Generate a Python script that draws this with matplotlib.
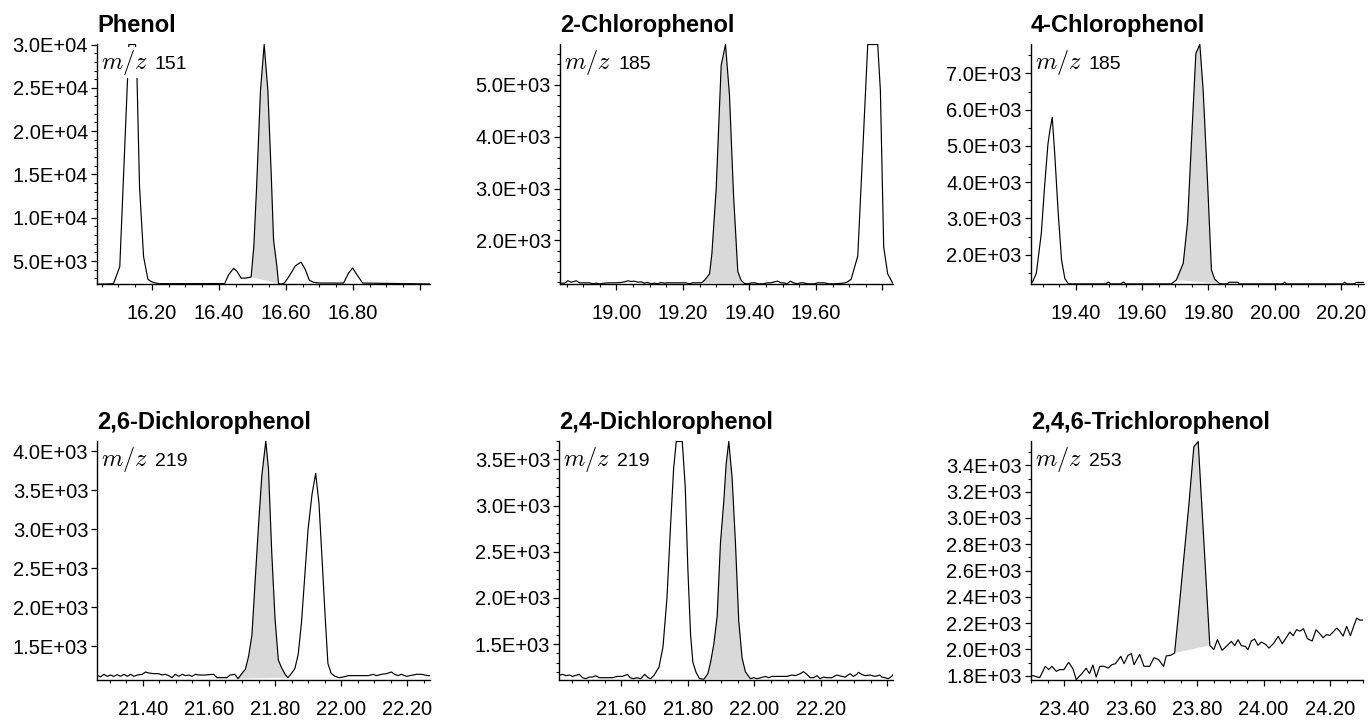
import matplotlib
matplotlib.use("Agg")
import matplotlib.pyplot as plt
import matplotlib.transforms as mtransforms
from matplotlib.ticker import MultipleLocator, FixedLocator, FixedFormatter, FormatStrFormatter

plt.rcParams['font.family'] = ['Liberation Sans', 'DejaVu Sans']
plt.rcParams['mathtext.fontset'] = 'cm'

# ---------------- data ----------------
titles = ["Phenol", "2-Chlorophenol", "4-Chlorophenol",
          "2,6-Dichlorophenol", "2,4-Dichlorophenol", "2,4,6-Trichlorophenol"]
ions = ["151", "185", "185", "219", "219", "253"]

# Phenol, m/z 151
phenol_t = [16.036, 16.085, 16.104, 16.128, 16.131, 16.151, 16.155, 16.163, 16.175, 16.188,
            16.200, 16.220, 16.417, 16.429, 16.444, 16.454, 16.466, 16.479, 16.496, 16.504,
            16.512, 16.524, 16.535, 16.546, 16.556, 16.563, 16.573, 16.578, 16.585, 16.595,
            16.608, 16.628, 16.645, 16.658, 16.670, 16.683, 16.703, 16.772, 16.787, 16.799,
            16.812, 16.829, 17.030]
phenol_i = [2330, 2380, 4350, 26800, 30000, 30000, 26800, 13560, 5500, 2890,
            2580, 2390, 2400, 3430, 4160, 3800, 3030, 3030, 3150, 6650,
            13180, 24700, 30000, 24700, 15100, 7430, 4370, 2400, 2340, 2450,
            3150, 4450, 4880, 4000, 2770, 2540, 2460, 2460, 3610, 4200,
            3420, 2460, 2350]

# 2-Chlorophenol, m/z 185
cp2_t = [18.829, 18.844, 18.854, 18.864, 18.879, 18.889, 18.904, 18.919, 18.929, 18.939,
         18.949, 18.964, 18.974, 18.984, 18.999, 19.014, 19.024, 19.034, 19.044, 19.054,
         19.064, 19.074, 19.084, 19.094, 19.104, 19.114, 19.124, 19.134, 19.144, 19.154,
         19.164, 19.179, 19.194, 19.209, 19.219, 19.229, 19.244, 19.256, 19.266, 19.280,
         19.287, 19.300, 19.315, 19.328, 19.340, 19.352, 19.365, 19.375, 19.385, 19.395,
         19.407, 19.417, 19.427, 19.440, 19.455, 19.465, 19.475, 19.485, 19.495, 19.505,
         19.513, 19.523, 19.533, 19.543, 19.553, 19.563, 19.575, 19.595, 19.605, 19.615,
         19.625, 19.640, 19.655, 19.682, 19.692, 19.706, 19.726, 19.741, 19.756, 19.786,
         19.794, 19.804, 19.816, 19.831]
cp2_i = [1176, 1176, 1221, 1195, 1221, 1182, 1182, 1182, 1163, 1176,
         1163, 1176, 1182, 1182, 1182, 1189, 1201, 1221, 1208, 1214,
         1195, 1201, 1176, 1189, 1163, 1176, 1163, 1189, 1176, 1182,
         1182, 1182, 1182, 1182, 1163, 1182, 1182, 1182, 1240, 1356,
         1743, 3000, 5381, 5780, 4800, 2900, 1400, 1230, 1170, 1163,
         1182, 1182, 1163, 1163, 1182, 1182, 1201, 1214, 1182, 1182,
         1163, 1214, 1182, 1163, 1182, 1182, 1163, 1163, 1182, 1182,
         1182, 1163, 1163, 1176, 1190, 1250, 1700, 3733, 5780, 5780,
         4898, 1871, 1356, 1176]

# 4-Chlorophenol, m/z 185
cp4_t = [19.264, 19.270, 19.281, 19.296, 19.306, 19.316, 19.322, 19.329, 19.337, 19.347,
         19.357, 19.367, 19.377, 19.387, 19.490, 19.498, 19.506, 19.535, 19.543, 19.551,
         19.688, 19.703, 19.724, 19.737, 19.749, 19.762, 19.774, 19.784, 19.797, 19.809,
         19.819, 19.834, 19.845, 19.857, 19.862, 19.888, 19.893, 20.024, 20.030, 20.036,
         20.205, 20.211, 20.217, 20.240, 20.246, 20.269]
cp4_i = [1200, 1260, 1487, 2590, 3900, 5050, 5440, 5788, 4702, 3141,
         1854, 1342, 1204, 1195, 1195, 1245, 1195, 1195, 1245, 1195,
         1195, 1302, 1763, 2900, 5162, 7553, 7800, 6541, 4059, 1578,
         1321, 1200, 1195, 1195, 1240, 1240, 1195, 1195, 1240, 1195,
         1195, 1240, 1195, 1195, 1235, 1235]

# 2,6-Dichlorophenol, m/z 219
dcp26_t = [21.262, 21.272, 21.282, 21.292, 21.302, 21.312, 21.322, 21.332, 21.343, 21.353,
           21.363, 21.373, 21.383, 21.398, 21.408, 21.418, 21.433, 21.448, 21.458, 21.468,
           21.478, 21.488, 21.498, 21.509, 21.519, 21.529, 21.539, 21.549, 21.559, 21.569,
           21.589, 21.614, 21.624, 21.639, 21.654, 21.664, 21.678, 21.688, 21.700, 21.710,
           21.720, 21.730, 21.740, 21.750, 21.760, 21.772, 21.780, 21.790, 21.800, 21.810,
           21.820, 21.830, 21.839, 21.850, 21.860, 21.870, 21.880, 21.890, 21.900, 21.912,
           21.923, 21.933, 21.943, 21.952, 21.960, 21.970, 21.982, 21.994, 22.007, 22.022,
           22.042, 22.062, 22.082, 22.097, 22.107, 22.122, 22.137, 22.152, 22.162, 22.172,
           22.182, 22.198, 22.213, 22.228, 22.243, 22.263, 22.269]
dcp26_i = [1124, 1103, 1137, 1111, 1128, 1111, 1133, 1111, 1137, 1111,
           1137, 1111, 1128, 1137, 1167, 1154, 1145, 1145, 1128, 1137,
           1120, 1094, 1137, 1111, 1137, 1120, 1128, 1111, 1137, 1128,
           1128, 1137, 1094, 1094, 1094, 1128, 1137, 1081, 1150, 1200,
           1370, 1640, 2350, 3050, 3690, 4128, 3780, 2700, 1850, 1320,
           1220, 1140, 1094, 1150, 1210, 1390, 1800, 2400, 3000, 3450,
           3716, 3330, 2560, 1850, 1276, 1148, 1111, 1094, 1103, 1120,
           1120, 1120, 1120, 1137, 1120, 1137, 1145, 1167, 1137, 1120,
           1137, 1111, 1124, 1137, 1137, 1120, 1120]

# 2,4-Dichlorophenol, m/z 219
dcp24_t = [21.413, 21.423, 21.433, 21.443, 21.453, 21.463, 21.473, 21.483, 21.493, 21.503,
           21.513, 21.523, 21.533, 21.543, 21.558, 21.573, 21.588, 21.603, 21.618, 21.626,
           21.636, 21.646, 21.658, 21.670, 21.680, 21.688, 21.698, 21.713, 21.725, 21.737,
           21.748, 21.757, 21.765, 21.783, 21.792, 21.800, 21.808, 21.815, 21.825, 21.835,
           21.848, 21.860, 21.868, 21.878, 21.888, 21.898, 21.908, 21.915, 21.923, 21.933,
           21.943, 21.953, 21.963, 21.973, 21.988, 21.998, 22.008, 22.020, 22.033, 22.043,
           22.053, 22.068, 22.083, 22.098, 22.113, 22.123, 22.138, 22.148, 22.158, 22.168,
           22.178, 22.188, 22.198, 22.208, 22.218, 22.233, 22.248, 22.263, 22.273, 22.288,
           22.298, 22.308, 22.313, 22.323, 22.333, 22.348, 22.363, 22.378, 22.383, 22.393,
           22.403, 22.413, 22.418]
dcp24_i = [1162, 1172, 1158, 1165, 1150, 1162, 1172, 1136, 1125, 1143,
           1143, 1158, 1136, 1136, 1136, 1136, 1150, 1150, 1172, 1136,
           1125, 1136, 1125, 1172, 1136, 1125, 1162, 1250, 1470, 2000,
           2800, 3400, 3695, 3695, 3200, 2300, 1600, 1300, 1190, 1125,
           1120, 1180, 1300, 1500, 1800, 2600, 3050, 3450, 3695, 3300,
           2600, 1750, 1350, 1200, 1125, 1136, 1125, 1136, 1150, 1136,
           1150, 1150, 1150, 1150, 1165, 1158, 1179, 1201, 1172, 1136,
           1136, 1158, 1125, 1143, 1136, 1136, 1165, 1150, 1143, 1179,
           1150, 1172, 1194, 1172, 1158, 1165, 1150, 1165, 1143, 1136,
           1125, 1150, 1172]

# 2,4,6-Trichlorophenol, m/z 253
tcp_t = [23.291, 23.306, 23.326, 23.343, 23.353, 23.363, 23.376, 23.386, 23.399, 23.413,
         23.426, 23.436, 23.451, 23.466, 23.476, 23.486, 23.496, 23.507, 23.520, 23.532,
         23.544, 23.554, 23.570, 23.580, 23.592, 23.602, 23.610, 23.627, 23.640, 23.657,
         23.670, 23.684, 23.699, 23.707, 23.720, 23.732, 23.745, 23.760, 23.775, 23.790,
         23.803, 23.815, 23.827, 23.838, 23.850, 23.861, 23.875, 23.888, 23.903, 23.913,
         23.923, 23.933, 23.945, 23.953, 23.963, 23.973, 23.983, 23.993, 24.006, 24.016,
         24.029, 24.044, 24.056, 24.066, 24.079, 24.089, 24.099, 24.109, 24.120, 24.132,
         24.146, 24.158, 24.169, 24.179, 24.189, 24.199, 24.209, 24.220, 24.229, 24.239,
         24.250, 24.261, 24.280, 24.290, 24.300]
tcp_i = [1800, 1800, 1785, 1871, 1846, 1871, 1833, 1846, 1846, 1902,
         1853, 1770, 1810, 1856, 1815, 1881, 1790, 1871, 1871, 1858,
         1884, 1891, 1947, 1891, 1955, 1967, 1884, 1962, 1871, 1871,
         1937, 1922, 1871, 1950, 1955, 1972, 2300, 2700, 3100, 3542,
         3582, 3050, 2517, 2031, 1998, 2074, 1993, 2023, 2061, 2028,
         2074, 2028, 2023, 1998, 2064, 2079, 2031, 2056, 2038, 2010,
         2043, 2099, 2043, 2081, 2132, 2104, 2150, 2139, 2157, 2081,
         2064, 2150, 2119, 2089, 2112, 2107, 2132, 2162, 2139, 2101,
         2175, 2104, 2238, 2223, 2223]

series_t = [phenol_t, cp2_t, cp4_t, dcp26_t, dcp24_t, tcp_t]
series_i = [phenol_i, cp2_i, cp4_i, dcp26_i, dcp24_i, tcp_i]

# integration windows (start, end retention time) of the shaded peak
peak_windows = [(16.496, 16.578), (19.256, 19.385), (19.703, 19.834),
                (21.688, 21.839), (21.848, 21.988), (23.732, 23.838)]

# axis ranges
x_ranges = [(16.036, 17.03), (18.830, 19.832), (19.264, 20.269),
            (21.262, 22.269), (21.413, 22.418), (23.299, 24.300)]
y_ranges = [(2350, 30060), (1169, 5790), (1192, 7812),
            (1064, 4132), (1111, 3700), (1767, 3586)]

# tick values / labels
x_major = [[16.2, 16.4, 16.6, 16.8, 17.0], [19.0, 19.2, 19.4, 19.6, 19.8],
           [19.4, 19.6, 19.8, 20.0, 20.2], [21.4, 21.6, 21.8, 22.0, 22.2],
           [21.6, 21.8, 22.0, 22.2, 22.4], [23.4, 23.6, 23.8, 24.0, 24.2]]
x_labels = [["16.20", "16.40", "16.60", "16.80", ""], ["19.00", "19.20", "19.40", "19.60", ""],
            ["19.40", "19.60", "19.80", "20.00", "20.20"], ["21.40", "21.60", "21.80", "22.00", "22.20"],
            ["21.60", "21.80", "22.00", "22.20", ""], ["23.40", "23.60", "23.80", "24.00", "24.20"]]
y_major_step = [5000, 1000, 1000, 500, 500, 200]
y_minor_step = [1000, 200, 500, None, 100, 100]

# ---------------- layout ----------------
W, H = 1370, 722
fig = plt.figure(figsize=(W / 100, H / 100), dpi=100)
lefts = [97, 560, 1030.7, 97.3, 559.3, 1030.7]
rights = [430, 893, 1364, 430, 893.3, 1363.3]
tops = [44, 44, 44, 441, 441, 441]
bottoms = [284, 283.5, 284, 680, 680, 680]

for k in range(6):
    l, r, t, b = lefts[k], rights[k], tops[k], bottoms[k]
    ax = fig.add_axes([l / W, 1 - b / H, (r - l) / W, (b - t) / H])
    xs, ys = series_t[k], series_i[k]
    w0, w1 = peak_windows[k]
    seg = [(x, y) for x, y in zip(xs, ys) if w0 - 1e-9 <= x <= w1 + 1e-9]
    ax.fill([p[0] for p in seg], [p[1] for p in seg], color='#d9d9d9', lw=0, zorder=1)
    ax.plot(xs, ys, color='black', lw=0.85, zorder=2)

    ax.set_xlim(*x_ranges[k])
    ax.set_ylim(*y_ranges[k])
    for s in ['top', 'right']:
        ax.spines[s].set_visible(False)
    for s in ['left', 'bottom']:
        ax.spines[s].set_linewidth(1.0)

    ax.xaxis.set_major_locator(FixedLocator(x_major[k]))
    ax.xaxis.set_major_formatter(FixedFormatter(x_labels[k]))
    ax.xaxis.set_minor_locator(MultipleLocator(0.05))
    ax.yaxis.set_major_locator(MultipleLocator(y_major_step[k]))
    ax.yaxis.set_major_formatter(FormatStrFormatter('%.1E'))
    if y_minor_step[k]:
        ax.yaxis.set_minor_locator(MultipleLocator(y_minor_step[k]))
    ax.tick_params(axis='both', which='major', direction='out', length=4.5, width=0.9,
                   labelsize=14.5, colors='black')
    ax.tick_params(axis='both', which='minor', direction='out', length=2.5, width=0.8)
    ax.tick_params(axis='x', which='major', pad=10)
    ax.tick_params(axis='y', which='major', pad=2)

    ax.set_title(titles[k], loc='left', fontsize=17, fontweight='bold', pad=9)

    # m/z label: italic math part with white background, then the ion number
    tr_mz = mtransforms.offset_copy(ax.transAxes, fig=fig, x=4, y=-4, units='dots')
    ax.text(0.0, 1.0, r'$m/z$', transform=tr_mz, fontsize=17.5,
            ha='left', va='top', zorder=5,
            bbox=dict(facecolor='white', edgecolor='none', pad=1.0))
    tr_num = mtransforms.offset_copy(ax.transAxes, fig=fig, x=58, y=-12, units='dots')
    ax.text(0.0, 1.0, ions[k], transform=tr_num, fontsize=14,
            ha='left', va='top', zorder=5)

fig.savefig('out.png', dpi=100)
